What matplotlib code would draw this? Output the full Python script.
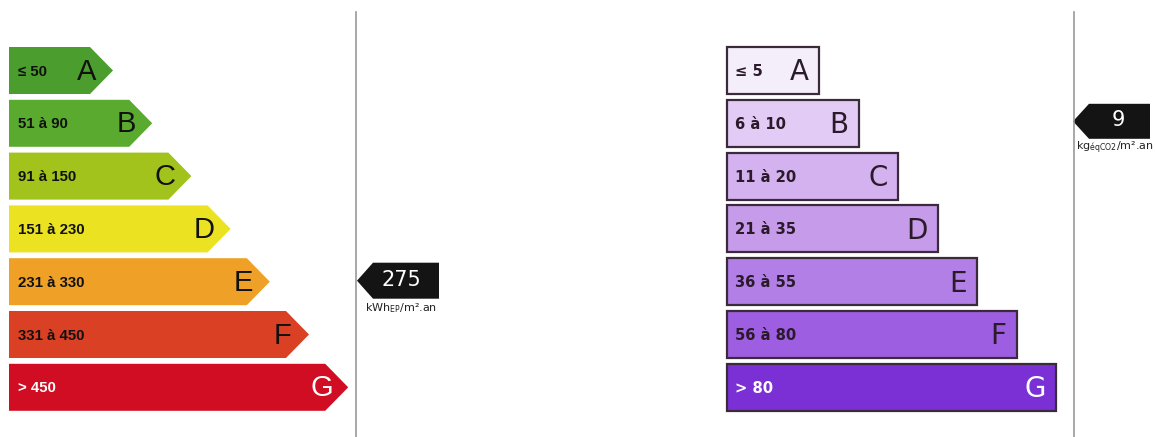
import matplotlib
matplotlib.use("Agg")
import matplotlib.pyplot as plt
from matplotlib.patches import Polygon, Rectangle

# ---- data ----
classes = ["A", "B", "C", "D", "E", "F", "G"]
energy_ranges = ["≤ 50", "51 à 90", "91 à 150", "151 à 230", "231 à 330", "331 à 450", "> 450"]
energy_upper = [50, 90, 150, 230, 330, 450, float("inf")]
climate_ranges = ["≤ 5", "6 à 10", "11 à 20", "21 à 35", "36 à 55", "56 à 80", "> 80"]
climate_upper = [5, 10, 20, 35, 55, 80, float("inf")]
energy_value = 275
climate_value = 9
energy_unit = r"kWh$_{\mathregular{EP}}$/m².an"
climate_unit = r"kg$_{\mathregular{éqCO2}}$/m².an"

energy_colors = ["#4b9e2d", "#5aaa2f", "#a2c21c", "#ebe322", "#eea126", "#da4024", "#d00d23"]
climate_colors = ["#f4eefb", "#e2cbf5", "#d4b2f0", "#c59bea", "#b17fe6", "#9d5ee1", "#7a30d5"]

# ---- layout (pixels) ----
W, H = 1155, 437
fig = plt.figure(figsize=(W / 100, H / 100), dpi=100)
ax = fig.add_axes([0, 0, 1, 1])
ax.set_xlim(0, W)
ax.set_ylim(H, 0)
ax.axis("off")

row0, pitch, bh = 70.5, 52.8, 47
left_x0, left_end0, left_step, tip = 9, 90, 39.2, 23
right_x0, right_end0, right_step = 727, 819, 39.5

def row_y(i):
    return row0 + pitch * i

def class_index(v, uppers):
    for i, u in enumerate(uppers):
        if v <= u:
            return i
    return len(uppers) - 1

# Energy scale (arrows)
for i, (c, r, col) in enumerate(zip(classes, energy_ranges, energy_colors)):
    y = row_y(i)
    end = left_end0 + left_step * i
    poly = Polygon([(left_x0, y - bh / 2), (end, y - bh / 2), (end + tip, y),
                    (end, y + bh / 2), (left_x0, y + bh / 2)],
                   closed=True, facecolor=col, edgecolor="none")
    ax.add_patch(poly)
    tc = "white" if i == 6 else "#111111"
    ax.text(left_x0 + 9, y + 1, r, ha="left", va="center", fontsize=10.8,
            fontweight="bold", family="Liberation Sans", color=tc)
    ax.text(end - 3, y + 1, c, ha="center", va="center", fontsize=21,
            family="Liberation Sans", color=tc)

# Climate scale (boxes)
for i, (c, r, col) in enumerate(zip(classes, climate_ranges, climate_colors)):
    y = row_y(i)
    end = right_end0 + right_step * i
    ax.add_patch(Rectangle((right_x0, y - bh / 2), end - right_x0, bh,
                           facecolor=col, edgecolor="#3a2a3a", lw=1.6))
    tc = "white" if i == 6 else "#2a1a2a"
    ax.text(right_x0 + 8, y + 1, r, ha="left", va="center", fontsize=10.6,
            fontweight="bold", family="DejaVu Sans", color=tc)
    ax.text(end - 10, y + 2, c, ha="right", va="center", fontsize=20,
            family="DejaVu Sans", color=tc)

# Divider lines
for lx in (356, 1074):
    ax.plot([lx, lx], [12, H], color="#9a9a9a", lw=1.2)

# Markers
def marker(xtip, y, wrect, hh, label, unit, unit_x, text_dx):
    ax.add_patch(Polygon([(xtip, y), (xtip + 16, y - hh / 2), (xtip + 16 + wrect, y - hh / 2),
                          (xtip + 16 + wrect, y + hh / 2), (xtip + 16, y + hh / 2)],
                         closed=True, facecolor="#141414", edgecolor="none"))
    ax.text(xtip + 16 + wrect / 2 + text_dx, y - 1, label, ha="center", va="center",
            fontsize=15, color="white", family="DejaVu Sans")
    ax.text(unit_x, y + hh / 2 + 9, unit, ha="center", va="center",
            fontsize=8, color="#222222", family="DejaVu Sans")

ie = class_index(energy_value, energy_upper)
ic = class_index(climate_value, climate_upper)
marker(357, row_y(ie) - 1, 66, 36, str(energy_value), energy_unit, 401, -5)
marker(1073, row_y(ic) - 2, 61, 35, str(climate_value), climate_unit, 1115, -1)

fig.savefig("out.png", dpi=100)
